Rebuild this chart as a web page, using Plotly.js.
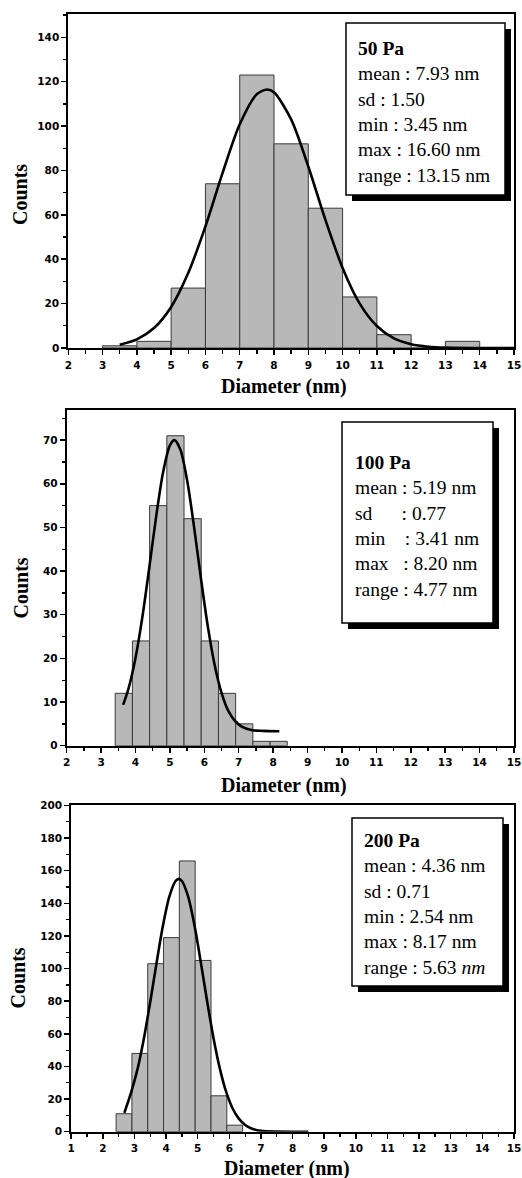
<!DOCTYPE html>
<html>
<head>
<meta charset="utf-8">
<script src="https://cdn.plot.ly/plotly-3.0.1.min.js"></script>
<style>html,body{margin:0;padding:0;background:#fff;}#chart{width:522px;height:1178px;}</style>
</head>
<body>
<div id="chart"></div>
<script>
// ---------- data ----------
// 50 Pa
const bins50Left = [3, 4, 5, 6, 7, 8, 9, 10, 11, 12, 13, 14];
const bin50Width = 1;
const counts50 = [1, 3, 27, 74, 123, 92, 63, 23, 6, 0, 3, 0];
const fit50x = [3.5, 4, 4.5, 5, 5.5, 6, 6.5, 7, 7.5, 7.8, 8, 8.5, 9, 9.5, 10, 10.5, 11, 11.5, 12, 12.5, 13, 14, 15];
const fit50y = [1.5, 3.9, 9.0, 18.5, 33.9, 54.8, 78.9, 100.8, 114.4, 116.5, 115.2, 103.0, 81.8, 57.7, 36.1, 20.0, 9.9, 4.3, 1.7, 0.6, 0.2, 0, 0];
const stats50 = ["50 Pa", "mean : 7.93 nm", "sd : 1.50", "min : 3.45 nm", "max : 16.60 nm", "range : 13.15 nm"];

// 100 Pa
const bins100Left = [3.41, 3.91, 4.41, 4.91, 5.41, 5.91, 6.41, 6.91, 7.41, 7.91];
const bin100Width = 0.5;
const counts100 = [12, 24, 55, 71, 52, 24, 12, 5, 1, 1];
const fit100x = [3.64, 3.8, 4.0, 4.2, 4.4, 4.6, 4.8, 5.0, 5.13, 5.3, 5.5, 5.7, 5.9, 6.1, 6.3, 6.5, 6.7, 6.9, 7.1, 7.4, 7.7, 8.18];
const fit100y = [9.35, 13.2, 20.1, 29.5, 40.8, 52.5, 62.6, 68.8, 70.0, 67.9, 60.8, 50.2, 38.4, 27.4, 18.5, 12.1, 7.9, 5.6, 4.3, 3.55, 3.4, 3.3];
const NB = "\u00A0";
const stats100 = ["100 Pa", "mean : 5.19 nm", "sd" + NB.repeat(6) + ": 0.77", "min" + NB.repeat(4) + ": 3.41 nm", "max" + NB.repeat(3) + ": 8.20 nm", "range : 4.77 nm"];

// 200 Pa
const bins200Left = [2.42, 2.92, 3.42, 3.92, 4.42, 4.92, 5.42, 5.92];
const bin200Width = 0.5;
const counts200 = [11, 48, 103, 119, 166, 105, 22, 4];
const fit200x = [2.68, 2.9, 3.1, 3.3, 3.5, 3.7, 3.9, 4.1, 4.3, 4.4, 4.5, 4.7, 4.9, 5.1, 5.3, 5.5, 5.7, 5.9, 6.1, 6.3, 6.5, 6.7, 7.0, 7.5, 8.5];
const fit200y = [11.5, 24.4, 38.7, 57.3, 79.7, 103.6, 126.2, 143.9, 153.7, 155, 153.7, 143.9, 126.2, 103.6, 79.7, 57.3, 38.7, 24.4, 14.4, 8.0, 4.15, 2.0, 0.5, 0.05, 0];
const stats200 = ["200 Pa", "mean : 4.36 nm", "sd : 0.71", "min : 2.54 nm", "max : 8.17 nm", "range : 5.63 <i>nm</i>"];

const xTitle = "Diameter (nm)";
const yTitle = "Counts";

// ---------- layout helpers (pixel geometry) ----------
const W = 522, H = 1178;
const fx = p => p / W;
const fy = p => 1 - p / H;

const panels = [
  {bins: bins50Left, w: bin50Width, counts: counts50, fx: fit50x, fy: fit50y, stats: stats50,
   xr: [2, 15], yr: [0, 150.5], ydt: 20, yminor: 10, px: [68.3, 514], py: [14, 348],
   box: [346, 23, 505, 195], textX: 356, textY: 111.5, yTitlePos: [20, 195], xTitlePos: [284, 386]},
  {bins: bins100Left, w: bin100Width, counts: counts100, fx: fit100x, fy: fit100y, stats: stats100,
   xr: [2, 15], yr: [0, 76.9], ydt: 10, yminor: 5, px: [66.7, 514], py: [410, 745.7],
   box: [342, 422, 493, 623], textX: 353, textY: 525.5, yTitlePos: [20.5, 588], xTitlePos: [284, 785]},
  {bins: bins200Left, w: bin200Width, counts: counts200, fx: fit200x, fy: fit200y, stats: stats200,
   xr: [1, 15], yr: [0, 200.3], ydt: 20, yminor: 10, px: [71.2, 514], py: [805, 1131.7],
   box: [352, 818, 503, 986], textX: 362, textY: 903.5, yTitlePos: [17.5, 978], xTitlePos: [287, 1168]}
];

const tickFont = {family: "DejaVu Sans", size: 10.5, color: "#000", weight: "bold"};
const data = [];
const layout = {
  width: W, height: H, margin: {l: 0, r: 0, t: 0, b: 0},
  paper_bgcolor: "#fff", plot_bgcolor: "#fff", showlegend: false,
  shapes: [], annotations: [], bargap: 0
};

panels.forEach((p, i) => {
  const k = i === 0 ? "" : String(i + 1);
  const xa = "x" + k, ya = "y" + k;
  const centers = p.bins.map(b => b + p.w / 2);
  data.push({
    type: "bar", x: centers, y: p.counts, width: p.w, xaxis: xa, yaxis: ya,
    marker: {color: "#c4c4c4", line: {color: "#3a3a3a", width: 1},
             pattern: {shape: ".", bgcolor: "#d0d0d0", fgcolor: "#9a9a9a", size: 2, solidity: 0.5}},
    hoverinfo: "skip"
  });
  data.push({
    type: "scatter", mode: "lines", x: p.fx, y: p.fy, xaxis: xa, yaxis: ya,
    line: {color: "#000", width: 2.6, shape: "spline", smoothing: 0.8}, hoverinfo: "skip", cliponaxis: true
  });
  layout["xaxis" + k] = {
    domain: [fx(p.px[0]), fx(p.px[1])], range: p.xr, anchor: ya,
    dtick: 1, tick0: 0, ticks: "outside", ticklen: 5, tickwidth: 1.5, tickcolor: "#000",
    minor: {dtick: 0.5, ticks: "outside", ticklen: 3.5, tickwidth: 1.3, tickcolor: "#000", showgrid: false},
    showline: true, linewidth: 2, linecolor: "#000", mirror: true, showgrid: false, zeroline: false,
    tickfont: tickFont, ticklabelstandoff: 1, fixedrange: true
  };
  layout["yaxis" + k] = {
    domain: [fy(p.py[1]), fy(p.py[0])], range: p.yr, anchor: xa,
    dtick: p.ydt, tick0: 0, ticks: "outside", ticklen: 5, tickwidth: 1.5, tickcolor: "#000",
    minor: {dtick: p.yminor, ticks: "outside", ticklen: 3, tickwidth: 1.3, tickcolor: "#000", showgrid: false},
    showline: true, linewidth: 2, linecolor: "#000", mirror: true, showgrid: false, zeroline: false,
    tickfont: tickFont, fixedrange: true
  };
  // stats box with drop shadow
  const b = p.box, s = 6;
  layout.shapes.push({type: "rect", xref: "paper", yref: "paper", layer: "above",
    x0: fx(b[0] + s), x1: fx(b[2] + s), y0: fy(b[3] + s), y1: fy(b[1] + s),
    fillcolor: "#000", line: {width: 0}});
  layout.shapes.push({type: "rect", xref: "paper", yref: "paper", layer: "above",
    x0: fx(b[0]), x1: fx(b[2]), y0: fy(b[3]), y1: fy(b[1]),
    fillcolor: "#fff", line: {color: "#000", width: 1.5}});
  const txt = "<b>" + p.stats[0] + "</b><br>" + p.stats.slice(1).join("<br>");
  layout.annotations.push({xref: "paper", yref: "paper", x: fx(p.textX), y: fy(p.textY),
    xanchor: "left", yanchor: "middle", align: "left", showarrow: false, text: txt,
    font: {family: "Liberation Serif", size: 19.5, color: "#000"}});
  // axis titles
  layout.annotations.push({xref: "paper", yref: "paper", x: fx(p.xTitlePos[0]), y: fy(p.xTitlePos[1]),
    xanchor: "center", yanchor: "middle", showarrow: false, text: "<b>" + xTitle + "</b>",
    font: {family: "Liberation Serif", size: 20, color: "#000"}});
  layout.annotations.push({xref: "paper", yref: "paper", x: fx(p.yTitlePos[0]), y: fy(p.yTitlePos[1]),
    xanchor: "center", yanchor: "middle", showarrow: false, textangle: -90, text: "<b>" + yTitle + "</b>",
    font: {family: "Liberation Serif", size: 20, color: "#000"}});
});

Plotly.newPlot("chart", data, layout, {staticPlot: true, displayModeBar: false});
</script>
</body>
</html>
